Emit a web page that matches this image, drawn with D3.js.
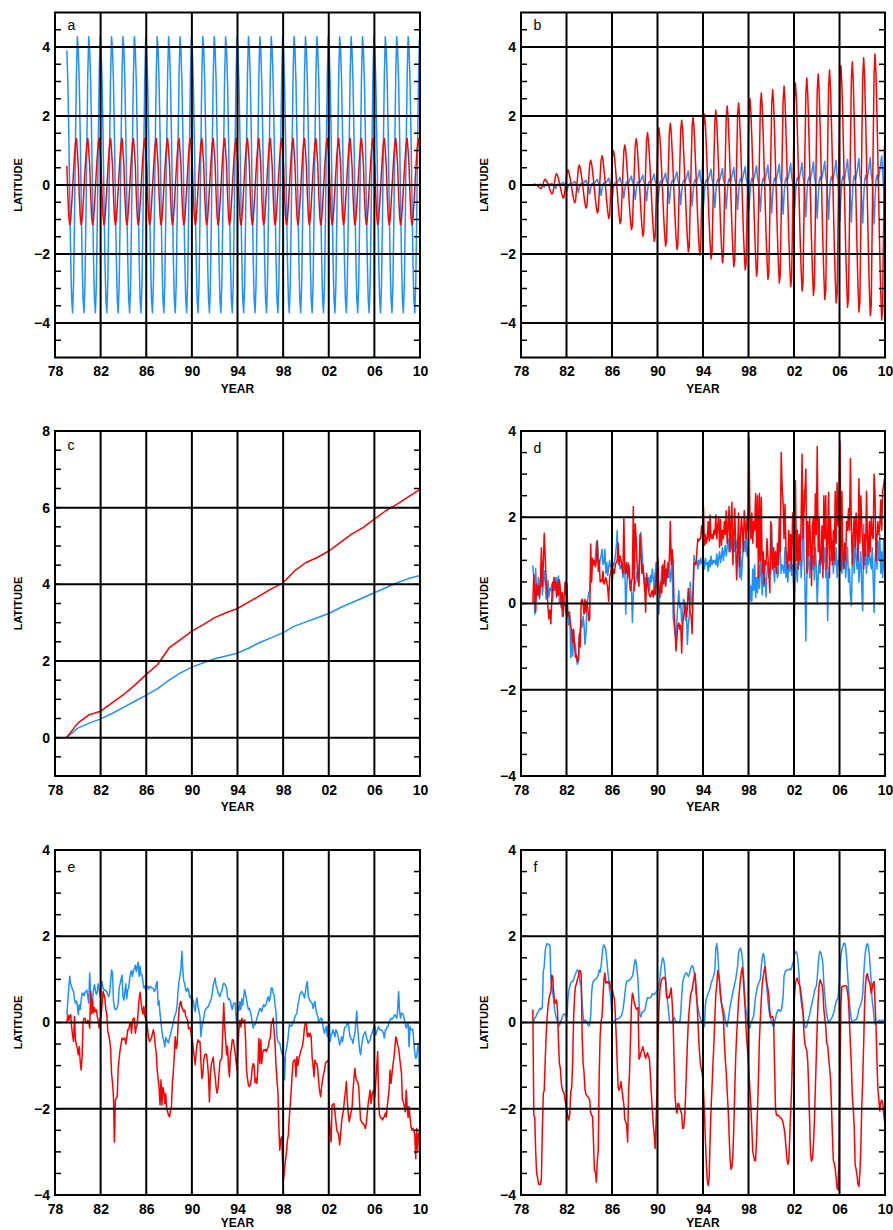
<!DOCTYPE html>
<html>
<head>
<meta charset="utf-8">
<script src="https://cdn.jsdelivr.net/npm/d3@7"></script>
<style>
  html, body { margin:0; padding:0; background:#ffffff; }
  svg { display:block; background:#ffffff; }
</style>
</head>
<body>
<svg id="chart" width="893" height="1230"></svg>
<script>

// ---- data (monthly values Jan 1979 .. Dec 2009, latitude units) ----

// panel a: one seasonal cycle (Jan..Dec), same every year
const aBlueClim = [3.9, 3.0, 1.5, -0.3, -2.1, -3.3, -3.7, -2.9, -1.0, 1.2, 3.2, 4.3]
const aRedClim  = [0.55, -0.3, -0.9, -1.15, -1.0, -0.6, -0.1, 0.4, 0.85, 1.2, 1.35, 1.0]

// panel b
const bRed = [
  0.0, 0.02, 0.02, 0.01, 0.0, -0.02, -0.05, -0.08, -0.1, -0.09, -0.03, 0.05,
  0.14, 0.17, 0.14, 0.09, 0.03, -0.04, -0.14, -0.21, -0.26, -0.24, -0.08, 0.10,
  0.28, 0.33, 0.28, 0.18, 0.07, -0.06, -0.2, -0.3, -0.38, -0.35, -0.12, 0.13,
  0.37, 0.44, 0.37, 0.24, 0.09, -0.08, -0.26, -0.41, -0.51, -0.47, -0.16, 0.17,
  0.49, 0.58, 0.49, 0.32, 0.12, -0.1, -0.34, -0.53, -0.67, -0.61, -0.2, 0.22,
  0.61, 0.72, 0.61, 0.4, 0.14, -0.12, -0.42, -0.65, -0.81, -0.75, -0.25, 0.26,
  0.72, 0.85, 0.72, 0.47, 0.17, -0.15, -0.5, -0.77, -0.97, -0.89, -0.3, 0.3,
  0.85, 1.0, 0.85, 0.55, 0.2, -0.17, -0.57, -0.89, -1.12, -1.03, -0.34, 0.35,
  0.99, 1.16, 0.99, 0.64, 0.23, -0.2, -0.66, -1.03, -1.29, -1.19, -0.4, 0.4,
  1.14, 1.34, 1.14, 0.74, 0.27, -0.23, -0.76, -1.18, -1.48, -1.36, -0.45, 0.46,
  1.29, 1.52, 1.29, 0.84, 0.3, -0.25, -0.83, -1.29, -1.63, -1.49, -0.5, 0.5,
  1.41, 1.66, 1.41, 0.91, 0.33, -0.27, -0.91, -1.41, -1.77, -1.63, -0.54, 0.54,
  1.52, 1.79, 1.52, 0.98, 0.36, -0.29, -0.96, -1.49, -1.87, -1.72, -0.57, 0.56,
  1.6, 1.88, 1.6, 1.03, 0.38, -0.3, -0.99, -1.54, -1.94, -1.78, -0.59, 0.59,
  1.67, 1.96, 1.67, 1.08, 0.39, -0.31, -1.04, -1.61, -2.03, -1.86, -0.62, 0.62,
  1.75, 2.06, 1.75, 1.13, 0.41, -0.33, -1.09, -1.7, -2.14, -1.96, -0.65, 0.65,
  1.84, 2.17, 1.84, 1.19, 0.43, -0.35, -1.15, -1.79, -2.25, -2.07, -0.69, 0.69,
  1.95, 2.29, 1.95, 1.26, 0.46, -0.36, -1.21, -1.89, -2.37, -2.18, -0.73, 0.71,
  2.02, 2.38, 2.02, 1.31, 0.48, -0.38, -1.26, -1.96, -2.46, -2.26, -0.75, 0.75,
  2.13, 2.51, 2.13, 1.38, 0.5, -0.4, -1.35, -2.1, -2.64, -2.42, -0.81, 0.8,
  2.27, 2.67, 2.27, 1.47, 0.53, -0.42, -1.4, -2.18, -2.74, -2.52, -0.84, 0.83,
  2.35, 2.77, 2.35, 1.52, 0.55, -0.44, -1.45, -2.26, -2.84, -2.61, -0.87, 0.86,
  2.44, 2.87, 2.44, 1.58, 0.57, -0.45, -1.5, -2.34, -2.94, -2.7, -0.9, 0.89,
  2.52, 2.96, 2.52, 1.63, 0.59, -0.47, -1.57, -2.44, -3.07, -2.82, -0.94, 0.93,
  2.64, 3.1, 2.64, 1.71, 0.62, -0.49, -1.64, -2.55, -3.2, -2.94, -0.98, 0.97,
  2.74, 3.22, 2.74, 1.77, 0.64, -0.51, -1.7, -2.64, -3.32, -3.05, -1.02, 1.0,
  2.83, 3.33, 2.83, 1.83, 0.67, -0.52, -1.75, -2.72, -3.42, -3.14, -1.05, 1.04,
  2.94, 3.46, 2.94, 1.9, 0.69, -0.54, -1.81, -2.82, -3.55, -3.26, -1.09, 1.07,
  3.03, 3.57, 3.03, 1.96, 0.71, -0.56, -1.88, -2.93, -3.68, -3.38, -1.13, 1.11,
  3.14, 3.69, 3.14, 2.03, 0.74, -0.58, -1.93, -3.01, -3.78, -3.47, -1.16, 1.14,
  3.23, 3.8, 3.23, 2.09, 0.76, -0.6, -2.0, -3.11, -3.91, -3.59, -1.2, 1.17
]
const bBlue = [
  0.0, -0.01, 0.0, 0.01, 0.0, 0.01, 0.01, 0.02, 0.02, 0.01, 0.0, -0.02,
  -0.06, -0.02, 0.01, 0.02, 0.01, 0.02, 0.03, 0.04, 0.05, 0.02, 0.01, -0.04,
  -0.11, -0.04, 0.01, 0.03, 0.02, 0.02, 0.04, 0.06, 0.08, 0.03, 0.01, -0.06,
  -0.17, -0.06, 0.02, 0.04, 0.02, 0.03, 0.06, 0.08, 0.11, 0.04, 0.02, -0.09,
  -0.22, -0.08, 0.02, 0.05, 0.03, 0.04, 0.07, 0.11, 0.14, 0.05, 0.02, -0.1,
  -0.26, -0.09, 0.03, 0.06, 0.03, 0.05, 0.09, 0.13, 0.17, 0.06, 0.03, -0.12,
  -0.3, -0.11, 0.03, 0.07, 0.04, 0.06, 0.1, 0.15, 0.2, 0.07, 0.03, -0.14,
  -0.34, -0.12, 0.03, 0.08, 0.05, 0.07, 0.12, 0.17, 0.23, 0.08, 0.03, -0.15,
  -0.38, -0.13, 0.04, 0.09, 0.05, 0.08, 0.13, 0.2, 0.26, 0.09, 0.04, -0.17,
  -0.42, -0.15, 0.04, 0.1, 0.06, 0.09, 0.15, 0.22, 0.29, 0.1, 0.04, -0.18,
  -0.46, -0.16, 0.05, 0.11, 0.06, 0.1, 0.16, 0.24, 0.32, 0.11, 0.05, -0.2,
  -0.5, -0.18, 0.05, 0.12, 0.07, 0.11, 0.18, 0.26, 0.35, 0.12, 0.05, -0.21,
  -0.53, -0.19, 0.06, 0.13, 0.08, 0.11, 0.19, 0.29, 0.38, 0.13, 0.06, -0.23,
  -0.57, -0.2, 0.06, 0.14, 0.08, 0.12, 0.21, 0.31, 0.41, 0.14, 0.06, -0.24,
  -0.6, -0.21, 0.06, 0.15, 0.09, 0.13, 0.22, 0.32, 0.43, 0.15, 0.06, -0.25,
  -0.63, -0.22, 0.07, 0.16, 0.09, 0.14, 0.23, 0.35, 0.46, 0.16, 0.07, -0.26,
  -0.66, -0.23, 0.07, 0.17, 0.1, 0.14, 0.24, 0.36, 0.48, 0.17, 0.07, -0.28,
  -0.69, -0.24, 0.08, 0.18, 0.1, 0.15, 0.26, 0.38, 0.51, 0.18, 0.08, -0.28,
  -0.71, -0.25, 0.08, 0.19, 0.11, 0.16, 0.27, 0.4, 0.53, 0.19, 0.08, -0.29,
  -0.73, -0.26, 0.08, 0.2, 0.11, 0.17, 0.28, 0.42, 0.56, 0.2, 0.08, -0.31,
  -0.77, -0.27, 0.09, 0.2, 0.12, 0.17, 0.29, 0.44, 0.58, 0.2, 0.09, -0.32,
  -0.81, -0.28, 0.09, 0.21, 0.12, 0.18, 0.3, 0.45, 0.6, 0.21, 0.09, -0.34,
  -0.85, -0.3, 0.09, 0.22, 0.12, 0.19, 0.31, 0.47, 0.62, 0.22, 0.09, -0.35,
  -0.88, -0.31, 0.1, 0.22, 0.13, 0.19, 0.32, 0.48, 0.64, 0.22, 0.1, -0.37,
  -0.92, -0.32, 0.1, 0.23, 0.13, 0.2, 0.34, 0.5, 0.67, 0.23, 0.1, -0.38,
  -0.96, -0.34, 0.1, 0.24, 0.14, 0.21, 0.35, 0.52, 0.69, 0.24, 0.1, -0.4,
  -1.0, -0.35, 0.11, 0.25, 0.14, 0.22, 0.36, 0.54, 0.72, 0.25, 0.11, -0.42,
  -1.04, -0.36, 0.11, 0.26, 0.15, 0.22, 0.37, 0.56, 0.74, 0.26, 0.11, -0.43,
  -1.07, -0.37, 0.12, 0.27, 0.15, 0.23, 0.39, 0.58, 0.77, 0.27, 0.12, -0.44,
  -1.1, -0.39, 0.12, 0.28, 0.16, 0.24, 0.4, 0.6, 0.8, 0.28, 0.12, -0.45,
  -1.13, -0.4, 0.13, 0.29, 0.17, 0.25, 0.42, 0.63, 0.84, 0.4, -0.1, -0.7
]

// panel c: yearly values 1979..2010
const cYears = d3.range(1979, 2011)
const cRed  = [0, 0.38, 0.6, 0.69, 0.91, 1.12, 1.37, 1.65, 1.91, 2.34, 2.56, 2.78, 2.95, 3.13, 3.26, 3.37,
               3.54, 3.71, 3.89, 4.04, 4.35, 4.57, 4.7, 4.87, 5.09, 5.31, 5.48, 5.7, 5.92, 6.09, 6.29, 6.48]
const cBlue = [0, 0.25, 0.38, 0.49, 0.63, 0.79, 0.95, 1.11, 1.28, 1.5, 1.69, 1.84, 1.95, 2.06, 2.13, 2.21,
               2.34, 2.49, 2.61, 2.74, 2.91, 3.02, 3.13, 3.24, 3.39, 3.52, 3.65, 3.78, 3.91, 4.04, 4.15, 4.23]

// panel d
const dRed = [
  0.0, 0.68, 0.3, -0.2, 0.45, 0.2, 0.4, 0.15, 0.5, 1.29, 0.4, 0.9,
  1.63, 1.1, 0.55, 0.3, -0.1, -0.36, -0.15, -0.47, 0.1, 0.5, 0.3, 0.6,
  0.45, 0.15, 0.5, 0.2, 0.55, 0.35, -0.1, 0.25, -0.3, 0.15, 0.5, 0.2,
  0.45, -0.3, -0.2, -0.35, -0.55, -0.6, -0.9, -0.6, -1.0, -1.25, -1.2, -1.35,
  -1.3, -0.7, -1.0, 0.05, 0.1, 0.0, -0.25, 0.1, -0.2, 0.05, -0.1, -0.4,
  -0.35, 1.38, 0.5, 1.05, 0.9, 1.0, 0.85, 1.0, 1.45, 0.75, 1.0, 0.5,
  0.55, 0.5, 0.75, 0.45, 0.5, 0.6, 0.5, 0.35, 0.05, 0.6, 0.7, 0.9,
  0.55, 0.8, 0.7, 0.9, 0.95, 1.0, 1.4, 0.9, 1.1, 1.0, 0.85, 0.7,
  2.0, 0.85, 0.7, 0.95, 0.6, 0.9, 0.7, 0.3, 0.5, 0.6, 2.25, 0.3,
  1.85, 1.5, 0.9, 0.6, 0.4, 1.6, 1.2, 0.7, 0.9, 0.6, 0.4, -0.2,
  0.7, 0.5, 0.3, 0.2, 0.15, 0.25, 0.3, 0.15, 0.4, 0.2, 0.7, 0.5,
  1.05, 0.3, 0.15, 0.5, 0.25, 0.9, 0.45, 1.0, 0.4, 0.8, 0.6, 0.9,
  1.0, 1.9, 0.9, 1.25, 0.95, -0.2, -0.6, -1.1, -0.8, -0.5, -0.45, -0.6,
  -0.5, -1.15, -0.5, -0.3, -0.2, 0.0, -0.3, -0.1, 0.35, 0.1, -0.2, -0.3,
  -0.7, 0.2, 0.9, 0.95, 0.9, 1.2, 1.5, 1.45, 1.5, 1.5, 1.8, 1.6,
  2.25, 1.35, 1.6, 1.4, 1.5, 1.9, 1.45, 2.05, 1.5, 1.6, 1.5, 1.7,
  1.6, 2.05, 1.5, 1.8, 2.0, 1.3, 1.95, 1.35, 1.7, 1.5, 1.9, 1.6,
  2.15, 1.4, 1.8, 2.25, 1.2, 1.9, 2.35, 0.9, 1.6, 2.2, 1.3, 0.55,
  1.2, 2.1, 0.85, 1.5, 2.0, 1.7, 1.2, 2.15, 1.8, 1.5, 2.0, 1.7,
  3.85, 2.0, 1.5, 2.1, 1.4, 1.9, 1.7, 2.55, 1.3, 2.5, 0.6, 2.55,
  1.0, 2.46, 0.7, 1.2, 0.45, 1.0, 0.9, 1.5, 1.1, 0.7, 0.25, 1.9,
  1.2, 0.8, 1.3, 0.84, 1.2, 0.7, 1.4, 0.9, 2.0, 1.2, 3.5, 2.7,
  2.31, 1.5, 2.3, 1.3, 1.0, 0.8, 1.7, 1.0, 1.6, 0.8, 2.1, 1.5,
  0.3, 2.85, 1.0, 1.7, 0.8, 1.6, 1.0, 1.9, 3.46, 1.5, 2.1, 2.6,
  3.12, 0.7, 1.9, 1.1, 2.0, 1.4, 0.41, 1.8, 2.0, 0.9, 2.54, 1.6,
  3.64, 1.2, 2.0, 0.9, 1.0, 1.8, 0.6, 2.5, 1.5, 2.5, 0.8, 1.5,
  2.58, 0.6, 2.0, 1.3, 0.9, 1.7, 1.0, 2.6, 1.4, 2.8, 1.8, 2.45,
  3.77, 0.76, 2.6, 1.2, 0.8, 1.4, 1.0, 1.9, 1.7, 2.2, 1.7, 3.36,
  1.8, 0.9, 1.6, 2.0, 1.3, 2.1, 1.6, 1.0, 2.89, 1.4, 2.5, 1.8,
  1.4, 0.8, 1.6, 1.1, 2.6, 1.5, 1.1, 1.9, 1.2, 2.0, 1.6, 1.5,
  3.0, 2.5, 1.0, 1.5, 1.9, 1.6, 1.8, 2.4, 1.7, 2.6, 2.75, 2.9
]
const dBlue = [
  0.88, 0.6, -0.25, 0.82, 0.2, 0.35, 0.6, 0.1, 0.45, 0.85, 0.2, 0.45,
  0.76, 0.5, 0.1, 0.3, 0.53, 0.15, 0.35, 0.3, 0.45, 0.05, 0.6, 0.3,
  0.4, 0.6, 0.2, 0.64, 0.0, 0.3, 0.15, -0.3, 0.1, -0.05, 0.0, -0.25,
  -0.1, -0.3, -0.5, -0.2, -1.26, -0.6, -1.22, -0.7, -0.9, -1.0, -1.25, -1.41,
  -1.35, -0.8, -0.6, -0.4, -0.55, -0.3, -0.5, -0.95, -0.7, -0.1, 0.1, 0.26,
  0.3, 0.7, 1.05, 0.95, 1.0, 0.9, 1.1, 1.42, 1.46, 1.1, 0.85, 1.0,
  1.1, 1.26, 0.9, 0.95, 1.26, 0.7, 0.95, 0.65, 0.85, 1.0, 0.85, 0.9,
  0.95, 0.85, 0.95, 1.1, 1.3, 1.69, 0.95, 1.05, 0.8, 0.85, 0.95, 0.6,
  0.75, 0.9, -0.25, 0.4, 0.7, 0.95, 0.5, 0.3, 0.4, -0.44, 0.2, 0.5,
  0.45, 0.6, 0.75, 0.5, 0.9, 1.2, 1.65, 1.3, 0.9, 0.7, 0.3, 0.6,
  0.35, 0.4, 0.6, 0.3, 0.65, 0.5, 0.8, 0.6, 0.4, 0.7, 0.95, 0.4,
  0.0, -0.25, 0.3, 0.45, 0.85, 0.5, 0.6, 0.8, 0.4, 0.6, 0.95, 0.6,
  0.9, 0.5, 0.7, 1.0, -0.33, -0.5, -0.71, -0.8, -0.4, 0.0, 0.3, -0.1,
  0.0, -0.45, -0.3, 0.1, 0.05, -0.4, -0.2, -0.95, -0.5, -0.3, 0.5, 0.1,
  -0.1, 0.3, 1.12, 0.9, 0.95, 1.0, 0.8, 1.0, 0.9, 1.05, 0.95, 0.9,
  1.0, 0.8, 1.05, 0.9, 0.95, 0.75, 1.0, 0.85, 1.1, 0.9, 1.0, 0.95,
  1.0, 0.9, 1.15, 0.85, 1.05, 1.2, 0.95, 1.1, 1.3, 1.0, 1.2, 1.35,
  1.1, 1.3, 1.5, 1.2, 1.4, 1.6, 1.25, 1.35, 1.5, 1.2, 1.45, 1.3,
  1.5, 1.3, 0.6, 1.2, 0.55, 1.0, 1.3, 1.45, 1.2, 1.65, 1.1, 1.3,
  0.9, 0.05, 0.4, 0.05, 0.8, 0.3, 0.9, 0.14, 0.6, 0.25, 0.9, 0.35,
  1.0, 0.7, 0.2, 0.85, 0.4, 0.6, 0.15, 0.75, 0.95, 0.6, 0.8, 0.7,
  1.84, 1.0, 0.75, 0.5, 1.1, 0.9, 0.6, 0.7, 1.69, 1.2, 0.7, 0.9,
  0.85, 0.7, 1.3, 0.6, 1.0, 0.5, 0.9, 0.75, 1.1, 0.65, 0.9, 0.4,
  -0.29, 1.07, 0.8, 0.5, 1.2, 0.9, 1.4, 0.6, 1.0, 2.62, 1.2, 0.5,
  -0.87, 0.6, 0.9, 1.2, 0.6, 0.95, 1.3, 0.8, 1.1, 0.55, 1.3, 0.9,
  -0.02, 0.6, 1.0, 0.7, 1.2, 1.15, 0.8, 1.0, 1.3, 0.6, 1.0, -0.4,
  0.7, 0.9, 1.1, 1.0, 1.46, 0.7, 1.1, 0.9, 1.3, 0.6, 1.0, 0.9,
  1.69, 0.95, 0.7, 1.2, 0.85, 1.1, 0.6, 1.0, 1.3, 0.5, 0.8, 0.2,
  -0.05, 0.9, 1.4, 0.7, 1.46, 1.1, 0.8, 1.3, 0.5, 0.9, 1.2, 0.3,
  -0.17, 1.84, 0.9, 1.1, 0.7, 1.45, 0.9, 1.2, 1.0, 0.8, 1.3, 0.6,
  -0.21, 1.0, 1.3, 0.8, 1.45, 1.0, 1.6, 0.7, 1.2, 0.6, 1.5, 0.7
]

// panel e
const eRed = [
  0.0, 0.18, 0.05, 0.15, 0.18, -0.1, -0.3, -0.44, 0.14, -0.4, -0.52, -0.6,
  -0.75, -0.56, -0.9, -1.1, -0.8, 0.0, 0.1, 0.1, 0.0, -0.02, 0.05, 0.02,
  -0.13, 0.72, 0.2, 0.53, 0.22, 0.35, 0.25, 0.3, 0.14, 0.05, -0.13, 0.1,
  0.14, 0.4, 0.72, 0.65, 0.55, 0.3, 0.2, -0.2, -0.29, -0.4, -0.6, -1.18,
  -1.4, -1.72, -2.77, -1.8, -1.75, -1.72, -1.06, -0.83, -0.64, -0.5, -0.36, -0.4,
  -0.38, -0.36, -0.5, -0.35, -0.17, -0.17, -0.05, 0.0, -0.25, 0.05, 0.1, 0.1,
  -0.25, -0.1, -0.05, 0.25, 0.55, 0.7, 0.49, 0.3, 0.2, 0.37, 0.14, 0.1,
  0.0, -0.17, -0.36, -0.44, -0.4, -0.36, -0.25, -0.17, -0.29, -0.55, -0.7, -1.1,
  -1.3, -1.5, -1.91, -1.33, -1.91, -1.5, -1.6, -1.88, -1.65, -2.0, -2.07, -2.15,
  -2.19, -2.03, -1.95, -1.4, -1.15, -0.75, -0.33, -0.6, -0.5, -0.05, 0.3, 0.45,
  0.49, 0.35, 0.3, 0.25, 0.29, 0.15, 0.1, 0.06, -0.15, -0.13, -0.13, -0.3,
  -0.4, -0.6, -0.8, -0.98, -0.7, -0.5, -0.4, -0.45, -0.44, -0.9, -1.3, -1.2,
  -0.87, -0.75, -0.73, -0.75, -0.95, -1.25, -1.84, -1.2, -0.95, -0.9, -0.8, -1.1,
  -1.25, -1.5, -1.64, -1.5, -1.2, -0.9, -0.86, -0.83, -0.2, 0.45, -0.1, -0.4,
  -0.75, -0.55, -1.0, -1.26, -0.75, -0.6, -0.4, -0.4, -0.55, -0.71, -0.9, -1.1,
  -0.5, -0.17, 0.05, -0.1, 0.1, 0.0, 0.05, 0.06, -0.4, -1.1, -1.3, -1.45,
  -1.49, -1.45, -1.3, -1.05, -0.95, -1.0, -1.4, -1.3, -1.41, -1.0, -0.37, -0.95,
  -0.4, -0.95, -0.7, -0.63, -0.65, -0.62, -0.68, -0.6, -0.55, -0.4, -0.36, -0.05,
  0.02, 0.1, -0.2, -0.5, -1.0, -1.33, -1.6, -2.4, -2.96, -2.7, -2.65, -3.3,
  -3.62, -3.4, -3.2, -3.0, -2.73, -2.61, -2.2, -1.9, -1.57, -1.2, -0.91, -0.88,
  -0.86, -1.26, -0.79, -1.0, -0.85, -0.75, -0.67, -0.6, -0.52, -0.35, -0.1, 0.0,
  0.0, -0.33, -0.25, -0.33, -0.25, -0.33, -0.8, -1.0, -1.26, -0.87, -0.95, -0.95,
  -1.1, -1.41, -1.6, -1.72, -1.49, -1.33, -1.2, -1.1, -0.95, -0.91, -0.9, -0.87,
  -2.17, -2.6, -2.77, -1.91, -1.9, -1.88, -2.07, -2.3, -2.5, -2.54, -2.6, -2.84,
  -2.6, -2.3, -2.15, -2.03, -1.8, -1.6, -1.37, -1.8, -2.1, -2.3, -2.19, -2.07,
  -2.0, -1.57, -1.3, -1.06, -1.29, -1.35, -1.37, -1.49, -1.9, -2.26, -2.3, -2.34,
  -2.34, -2.4, -2.46, -2.34, -2.1, -1.88, -1.72, -1.57, -1.88, -1.7, -1.6, -1.57,
  -1.72, -1.37, -1.0, -0.67, -1.88, -2.15, -2.2, -2.22, -2.26, -2.2, -2.19, -2.1,
  -2.19, -1.95, -1.75, -1.57, -1.1, -1.41, -1.2, -0.98, -0.83, -0.6, -0.33, -0.4,
  -0.52, -0.6, -0.79, -1.0, -1.18, -1.8, -1.84, -1.95, -2.07, -1.57, -1.95, -2.2,
  -1.95, -2.2, -2.42, -2.5, -2.45, -2.5, -2.6, -3.16, -2.46, -2.96, -2.6, -2.5
]
const eBlue = [
  0.18, 0.5, 0.8, 1.07, 0.9, 0.84, 0.75, 0.72, 0.53, 0.45, 0.5, 0.4,
  0.18, 0.41, 0.3, 0.5, 0.68, 0.68, 0.62, 0.7, 0.72, 0.75, 0.6, 0.45,
  1.15, 0.7, 0.55, 0.5, 0.75, 0.88, 0.75, 0.65, 0.7, 0.9, 0.8, 0.6,
  0.8, 0.95, 0.8, 0.75, 0.76, 0.73, 0.72, 0.65, 0.6, 0.68, 0.95, 1.22,
  1.15, 0.5, 0.35, 0.3, 0.3, 0.35, 0.45, 0.8, 0.9, 1.0, 1.1, 0.6,
  0.52, 0.7, 0.9, 0.55, 0.75, 0.8, 1.0, 1.15, 1.2, 1.07, 1.2, 1.25,
  1.33, 1.18, 1.3, 1.4, 1.07, 1.3, 1.1, 1.1, 0.95, 0.8, 0.85, 0.75,
  0.8, 0.84, 0.78, 0.82, 0.84, 0.8, 0.8, 0.78, 0.72, 0.75, 0.9, 0.95,
  0.4, 0.5, 0.2, 0.0, -0.2, -0.35, -0.43, -0.56, -0.35, -0.4, -0.45, -0.47,
  -0.35, -0.28, -0.17, -0.1, 0.02, 0.12, 0.18, 0.25, 0.4, 0.75, 0.95, 1.1,
  1.25, 1.65, 1.2, 0.95, 0.9, 0.75, 0.72, 0.8, 0.76, 0.6, 0.57, 0.64,
  0.55, 0.5, 0.35, 0.25, 0.5, 0.57, 0.35, 0.25, 0.14, -0.33, -0.1, 0.0,
  0.1, 0.25, 0.3, 0.33, 0.36, 0.37, 0.45, 0.5, 0.55, 0.7, 0.88, 0.95,
  1.03, 0.85, 0.8, 0.68, 0.65, 0.6, 0.7, 0.72, 0.85, 0.91, 0.9, 0.85,
  0.8, 0.6, 0.53, 0.55, 0.5, 0.38, 0.3, 0.42, 0.45, 0.45, 0.1, -0.05,
  0.37, 0.28, 0.48, 0.3, 0.55, 0.4, 0.6, 0.76, 0.65, 0.53, 0.4, 0.3,
  0.33, 0.25, 0.14, 0.0, -0.13, -0.05, -0.05, 0.02, 0.1, 0.18, 0.25, 0.33,
  0.3, 0.25, 0.35, 0.41, 0.37, 0.4, 0.45, 0.55, 0.6, 0.49, 0.6, 0.8,
  0.8, 0.68, 0.64, 0.4, 0.26, -0.33, -0.44, -0.46, -0.48, -0.6, -0.71, -0.75,
  -0.79, -1.33, -0.71, -0.6, -0.48, -0.29, -0.05, -0.07, -0.09, -0.05, 0.0, 0.05,
  0.14, 0.18, 0.22, 0.41, 0.5, 0.64, 0.68, 0.72, 0.68, 0.64, 0.57, 0.7,
  0.88, 0.95, 0.6, 0.55, 0.49, 0.47, 0.45, 0.33, 0.4, 0.49, 0.29, 0.2,
  0.14, 0.0, 0.05, 0.1, 0.1, 0.0, -0.17, -0.25, -0.15, -0.09, -0.33, -0.1,
  0.14, -0.44, -0.3, -0.25, -0.17, -0.25, -0.33, -0.17, -0.2, -0.29, -0.4, -0.52,
  -0.45, -0.33, -0.44, -0.3, -0.13, -0.1, -0.09, 0.0, 0.0, -0.2, -0.33, -0.38,
  -0.4, -0.48, -0.35, -0.25, 0.0, 0.26, -0.17, -0.4, -0.64, -0.75, -0.55, -0.4,
  -0.29, -0.25, -0.21, -0.33, -0.4, -0.48, -0.45, -0.4, -0.3, -0.25, -0.17, -0.12,
  -0.09, -0.29, -0.21, -0.15, -0.09, -0.17, -0.17, -0.17, -0.2, -0.25, -0.36, -0.17,
  -0.17, -0.09, -0.09, 0.02, 0.05, 0.1, 0.08, 0.1, 0.15, 0.18, 0.14, 0.1,
  0.3, 0.72, 0.26, 0.1, 0.22, 0.2, 0.18, 0.06, -0.05, -0.13, -0.05, 0.0,
  -0.56, -0.09, -0.17, -0.15, -0.17, -0.45, -0.71, -0.83, -0.79, -0.6, -0.48, -1.18
]

// panel f
const fRed = [
  0.3, -2.15, -2.2, -3.0, -3.5, -3.6, -3.75, -3.75, -3.75, -3.65, -2.5, -1.65,
  -1.57, -0.9, -0.3, 0.1, 0.37, 0.55, 0.65, 0.7, 1.1, 1.06, 0.7, 0.45,
  0.45, 0.53, 0.3, -0.4, -0.95, -1.06, -1.4, -1.55, -1.6, -1.65, -1.8, -1.95,
  -2.03, -2.2, -2.26, -2.1, -1.6, -1.5, -0.9, 0.1, 0.6, 0.84, 0.9, 1.0,
  1.07, 1.2, 1.2, 1.1, -0.3, -0.95, -1.15, -1.55, -1.66, -1.7, -1.72, -1.75,
  -1.8, -2.1, -2.15, -2.18, -2.8, -3.43, -3.47, -3.7, -3.2, -2.96, -1.2, -0.3,
  0.03, 0.14, 0.6, 1.0, 1.15, 0.91, 0.95, 0.93, 0.91, 0.95, 0.8, 0.72,
  0.76, 0.64, 0.55, 0.2, -0.35, -0.95, -1.5, -1.57, -1.5, -1.37, -1.55, -1.75,
  -1.9, -2.25, -2.3, -2.4, -2.77, -1.6, -1.15, -0.4, 0.4, 0.68, 0.6, 0.45,
  0.38, 0.32, 0.3, 0.35, -0.85, -0.8, -0.7, -0.64, -0.56, -0.65, -0.75, -0.83,
  -0.75, -0.7, -0.79, -0.85, -1.2, -1.65, -2.0, -2.35, -2.6, -2.92, -2.3, -1.5,
  -0.4, 0.32, 0.75, 0.92, 1.0, 1.03, 1.05, 1.05, 0.97, 0.6, 0.55, 0.6,
  0.58, 0.7, 0.8, 0.45, 0.0, -0.9, -1.7, -1.97, -2.1, -1.88, -1.88, -2.0,
  -2.05, -2.12, -2.45, -2.45, -2.25, -1.78, -1.1, -0.5, 0.0, 0.3, 0.55, 0.7,
  0.75, 0.9, 1.03, 1.15, 0.9, 0.55, 0.1, -0.4, -0.75, -1.0, -1.1, -1.25,
  -1.55, -2.1, -2.7, -3.27, -3.65, -3.78, -3.6, -2.7, -2.0, -1.5, -0.95, -0.5,
  0.1, 0.65, 0.85, 1.2, 1.1, 0.95, 0.65, 0.45, 0.3, 0.14, -0.45, -0.85,
  -1.15, -1.6, -2.0, -2.55, -3.15, -3.4, -3.35, -3.1, -2.4, -1.6, -0.8, -0.3,
  0.1, 0.5, 0.76, 1.0, 1.17, 1.28, 1.03, 0.65, 0.3, -0.17, -0.5, -0.8,
  -1.15, -1.55, -1.95, -2.45, -3.0, -3.1, -3.2, -3.2, -2.7, -2.0, -1.3, -0.4,
  0.1, 0.52, 0.91, 1.05, 1.2, 1.3, 1.05, 0.9, 0.78, 0.6, 0.25, 0.12,
  0.12, 0.14, 0.03, -1.0, -2.0, -2.15, -2.16, -2.15, -2.18, -2.2, -2.22, -2.25,
  -2.33, -2.45, -2.6, -2.88, -3.15, -3.29, -3.2, -2.65, -2.05, -1.5, -0.6, 0.05,
  0.6, 0.9, 1.0, 1.03, 0.95, 0.88, 0.82, 0.65, 0.47, 0.25, -0.25, -0.5,
  -0.58, -0.66, -0.9, -1.5, -2.3, -3.05, -3.22, -3.15, -2.85, -2.3, -1.55, -0.8,
  -0.05, 0.5, 0.88, 0.99, 0.93, 0.88, 0.72, 0.3, 0.1, -0.1, -0.48, -0.53,
  -0.8, -1.05, -1.3, -1.9, -2.6, -3.2, -3.26, -3.4, -3.6, -3.85, -3.88, -3.1,
  -1.2, 0.4, 0.84, 0.84, 0.84, 0.85, 0.85, 0.84, 0.7, 0.5, 0.0, -0.5,
  -1.0, -1.7, -2.0, -2.4, -3.3, -3.4, -3.55, -3.75, -3.8, -3.5, -2.9, -1.95,
  -1.3, -0.5, 0.45, 0.9, 1.1, 1.13, 1.0, 0.95, 0.85, 0.68, 0.8, 0.92,
  0.95, 0.42, -0.05, -0.9, -1.55, -1.78, -2.05, -1.85, -1.8, -1.85, -2.1, -2.3
]
const fBlue = [
  0.0, 0.05, 0.1, 0.13, 0.18, 0.23, 0.26, 0.3, 0.33, 0.3, 0.37, 1.18,
  1.3, 1.65, 1.78, 1.83, 1.82, 1.8, 1.8, 1.0, 0.86, 0.7, 0.52, 0.3,
  0.18, 0.09, 0.03, -0.03, -0.08, 0.0, 0.06, 0.12, 0.18, 0.2, 0.18, 0.14,
  0.14, 0.55, 0.74, 0.85, 0.92, 0.95, 0.95, 1.0, 1.07, 1.12, 1.18, 1.22,
  1.2, 1.05, 0.9, 0.85, 0.45, 0.15, 0.02, 0.05, 0.04, 0.02, -0.05, -0.08,
  -0.05, 0.14, 0.68, 0.91, 0.96, 0.99, 1.0, 1.03, 1.05, 1.1, 1.22, 1.17,
  1.3, 1.55, 1.75, 1.8, 1.75, 1.68, 1.45, 1.2, 1.0, 0.74, 0.6, 0.3,
  0.0, 0.02, 0.04, 0.07, 0.08, 0.08, 0.09, 0.1, 0.13, 0.14, 0.2, 0.28,
  0.45, 0.65, 0.84, 0.96, 0.97, 0.96, 0.99, 1.0, 1.05, 1.07, 1.18, 1.35,
  1.46, 1.4, 1.2, 0.95, 0.47, 0.15, 0.13, 0.22, 0.25, 0.26, 0.28, 0.37,
  0.5, 0.58, 0.57, 0.57, 0.58, 0.6, 0.67, 0.65, 0.65, 0.68, 0.71, 0.72,
  0.74, 0.85, 1.02, 1.25, 1.4, 1.5, 1.45, 1.3, 1.05, 0.75, 0.5, 0.3,
  0.07, 0.01, 0.0, 0.0, 0.1, 0.12, 0.06, 0.01, 0.01, 0.02, 0.0, 0.01,
  0.2, 0.6, 0.9, 1.03, 1.08, 1.14, 1.15, 1.12, 1.07, 1.12, 1.2, 1.28,
  1.32, 1.3, 1.18, 1.07, 0.7, 0.5, 0.37, 0.25, 0.15, 0.08, 0.02, -0.03,
  -0.06, -0.09, 0.4, 0.55, 0.62, 0.67, 0.73, 0.8, 0.91, 0.97, 1.03, 1.1,
  1.22, 1.7, 1.83, 1.65, 1.25, 0.85, 0.6, 0.44, 0.35, 0.3, 0.2, 0.06,
  -0.05, -0.1, 0.05, 0.2, 0.35, 0.48, 0.58, 0.7, 0.8, 0.91, 1.0, 1.15,
  1.3, 1.6, 1.7, 1.72, 1.66, 1.48, 1.2, 0.85, 0.45, 0.25, 0.15, -0.07,
  -0.1, -0.12, 0.0, 0.04, 0.1, 0.16, 0.4, 0.6, 0.72, 0.84, 0.9, 0.95,
  1.0, 1.3, 1.5, 1.6, 1.54, 1.3, 1.0, 0.75, 0.5, 0.3, 0.15, 0.08,
  0.02, -0.07, -0.1, 0.0, 0.1, 0.2, 0.26, 0.3, 0.28, 0.26, 0.28, 0.4,
  0.6, 1.07, 1.17, 1.2, 1.22, 1.22, 1.23, 1.24, 1.22, 1.27, 1.36, 1.42,
  1.58, 1.63, 1.64, 1.57, 1.35, 1.05, 0.72, 0.5, 0.35, 0.22, 0.06, -0.1,
  -0.12, -0.09, 0.03, 0.1, 0.18, 0.3, 0.4, 0.5, 0.6, 0.72, 0.8, 0.84,
  1.02, 1.35, 1.57, 1.65, 1.62, 1.5, 1.35, 0.9, 0.62, 0.38, 0.18, 0.08,
  0.02, 0.02, 0.06, 0.09, 0.14, 0.2, 0.28, 0.4, 0.48, 0.53, 0.57, 0.85,
  1.2, 1.55, 1.68, 1.76, 1.84, 1.84, 1.75, 1.5, 1.15, 0.8, 0.45, 0.25,
  0.08, 0.02, 0.02, 0.05, 0.06, 0.07, 0.1, 0.2, 0.32, 0.37, 0.43, 0.5,
  0.65, 1.1, 1.45, 1.66, 1.79, 1.83, 1.75, 1.56, 1.25, 0.9, 0.5, 0.35,
  0.07, -0.04, -0.03, 0.0, 0.02, 0.04, 0.06, 0.0, 0.04, 0.06, 0.02, 0.03
]

// ---- time axis ----
const months = d3.range(372).map(i => 1979 + (i + 0.5) / 12)
const aBlue = months.map((t, i) => aBlueClim[i % 12])
const aRed = months.map((t, i) => aRedClim[i % 12])
const tickYears = d3.range(1978, 2011, 4)

const red = "#ff0000", blue = "#1e90ff"

const panels = [
  {id: "a", left: 55, right: 420, top: 12.5, bottom: 357.5, yDomain: [-5, 5], yTicks: [-4, -2, 0, 2, 4], t: months, blue: aBlue, red: aRed},
  {id: "b", left: 521, right: 885, top: 12.5, bottom: 357.5, yDomain: [-5, 5], yTicks: [-4, -2, 0, 2, 4], t: months, blue: bBlue, red: bRed},
  {id: "c", left: 55, right: 420, top: 431, bottom: 776, yDomain: [-1, 8], yTicks: [0, 2, 4, 6, 8], t: cYears, blue: cBlue, red: cRed},
  {id: "d", left: 521, right: 885, top: 431, bottom: 776, yDomain: [-4, 4], yTicks: [-4, -2, 0, 2, 4], t: months, blue: dBlue, red: dRed},
  {id: "e", left: 55, right: 420, top: 850, bottom: 1195, yDomain: [-4, 4], yTicks: [-4, -2, 0, 2, 4], t: months, blue: eBlue, red: eRed},
  {id: "f", left: 521, right: 885, top: 850, bottom: 1195, yDomain: [-4, 4], yTicks: [-4, -2, 0, 2, 4], t: months, blue: fBlue, red: fRed}
]

const svg = d3.select("#chart")
const defs = svg.append("defs")
const font = "'Liberation Sans', Arial, Helvetica, sans-serif"
const H = 1230

panels.forEach(p => {
  const x = d3.scaleLinear().domain([1978, 2010]).range([p.left, p.right])
  const y = d3.scaleLinear().domain(p.yDomain).range([p.bottom, p.top])
  const g = svg.append("g").attr("class", "panel-" + p.id)

  defs.append("clipPath").attr("id", "clip-" + p.id)
    .append("rect")
    .attr("x", p.left).attr("y", p.top)
    .attr("width", p.right - p.left).attr("height", p.bottom - p.top)

  const line = d3.line()
    .x(d => x(d[0]))
    .y(d => y(d[1]))

  // data lines: blue under red
  const lines = g.append("g").attr("clip-path", "url(#clip-" + p.id + ")")
  lines.append("path")
    .datum(d3.zip(p.t, p.blue))
    .attr("d", line)
    .attr("fill", "none")
    .attr("stroke", blue)
    .attr("stroke-width", 1.5)
    .attr("stroke-linejoin", "round")
  lines.append("path")
    .datum(d3.zip(p.t, p.red))
    .attr("d", line)
    .attr("fill", "none")
    .attr("stroke", red)
    .attr("stroke-width", 1.5)
    .attr("stroke-linejoin", "round")

  // grid on top of the data
  g.append("g").selectAll("line")
    .data(tickYears.filter(v => v > 1978 && v < 2010))
    .enter().append("line")
    .attr("x1", d => x(d)).attr("x2", d => x(d))
    .attr("y1", p.top).attr("y2", p.bottom)
    .attr("stroke", "#000").attr("stroke-width", 2)

  g.append("g").selectAll("line")
    .data(p.yTicks.filter(v => v > p.yDomain[0] && v < p.yDomain[1]))
    .enter().append("line")
    .attr("x1", p.left).attr("x2", p.right)
    .attr("y1", d => y(d)).attr("y2", d => y(d))
    .attr("stroke", "#000").attr("stroke-width", 2)

  // minor ticks every 0.5 on both sides
  const minor = d3.range(p.yDomain[0] + 0.5, p.yDomain[1], 0.5)
  const mt = g.append("g")
  mt.selectAll(".tl").data(minor).enter().append("line")
    .attr("x1", p.left).attr("x2", p.left + 6)
    .attr("y1", d => y(d)).attr("y2", d => y(d))
    .attr("stroke", "#000").attr("stroke-width", 1.5)
  mt.selectAll(".tr").data(minor).enter().append("line")
    .attr("x1", p.right - 6).attr("x2", p.right)
    .attr("y1", d => y(d)).attr("y2", d => y(d))
    .attr("stroke", "#000").attr("stroke-width", 1.5)

  // frame
  g.append("rect")
    .attr("x", p.left).attr("y", p.top)
    .attr("width", p.right - p.left).attr("height", p.bottom - p.top)
    .attr("fill", "none").attr("stroke", "#000").attr("stroke-width", 2)

  // tick labels
  const yAxis = g.append("g")
    .attr("transform", "translate(" + p.left + ",0)")
    .call(d3.axisLeft(y).tickValues(p.yTicks).tickSize(0).tickPadding(5))
  const xAxis = g.append("g")
    .attr("transform", "translate(0," + p.bottom + ")")
    .call(d3.axisBottom(x).tickValues(tickYears).tickSize(0).tickPadding(9)
      .tickFormat(d => d3.format("02d")(d % 100)))
  ;[yAxis, xAxis].forEach(ax => {
    ax.select(".domain").remove()
    ax.selectAll("text")
      .style("font-family", font)
      .style("font-size", "14px")
      .style("font-weight", "bold")
      .attr("fill", "#000")
  })

  // axis titles
  g.append("text")
    .attr("x", (p.left + p.right) / 2)
    .attr("y", Math.min(p.bottom + 35, H - 3))
    .attr("text-anchor", "middle")
    .style("font-family", font)
    .style("font-size", "12px")
    .style("font-weight", "bold")
    .text("YEAR")

  g.append("text")
    .attr("transform", "translate(" + (p.left - 33) + "," + y((p.yDomain[0] + p.yDomain[1]) / 2) + ") rotate(-90)")
    .attr("text-anchor", "middle")
    .style("font-family", font)
    .style("font-size", "11px")
    .style("font-weight", "bold")
    .text("LATITUDE")

  // panel letter
  g.append("text")
    .attr("x", x(1979) + 1)
    .attr("y", y(p.yDomain[1] - 0.5))
    .style("font-family", font)
    .style("font-size", "14px")
    .text(p.id)
})

</script>
</body>
</html>
